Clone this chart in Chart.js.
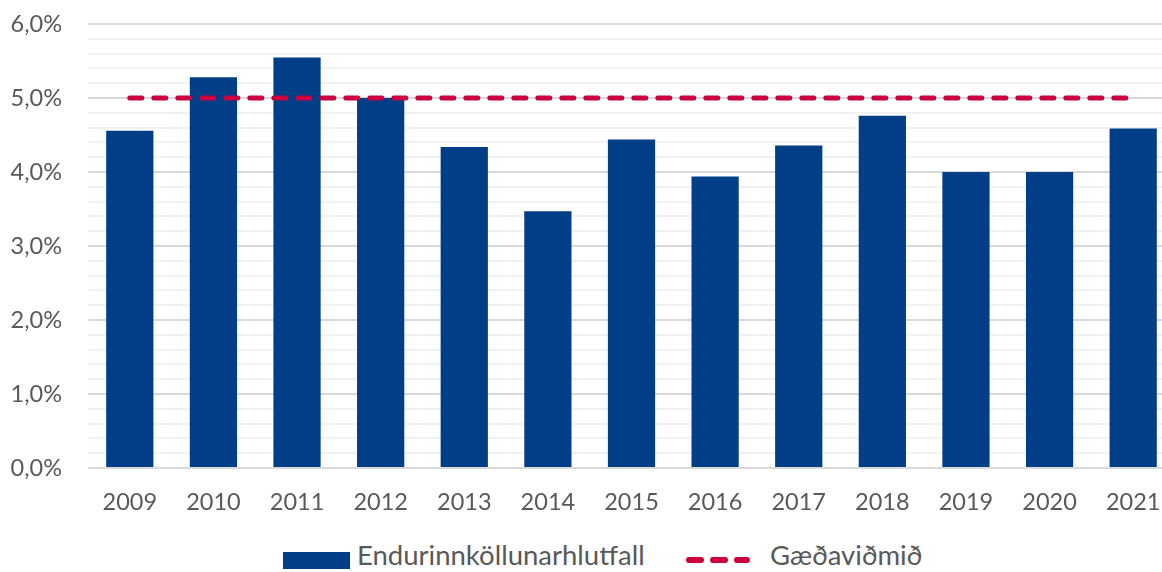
<!DOCTYPE html>
<html>
<head>
<meta charset="utf-8">
<script src="https://cdn.jsdelivr.net/npm/chart.js@4"></script>
<style>
  html, body { margin: 0; padding: 0; background: #fff; overflow: hidden; width: 1162px; height: 572px; }
  #wrap { position: absolute; left: 0; top: -16px; width: 1175px; height: 546px; }
  #legend { position: absolute; left: 0; top: 540px; width: 1162px; height: 32px; font-family: Lato, "Open Sans", sans-serif; font-size: 27.5px; color: #595959; }
  .sw1 { position: absolute; left: 283px; top: 12px; width: 67px; height: 17px; background: #003F87; }
  .t1 { position: absolute; left: 357px; top: -2px; white-space: nowrap; }
  .sw2 { position: absolute; left: 686px; top: 17px; width: 64px; height: 6px; }
  .t2 { position: absolute; left: 770px; top: -2px; white-space: nowrap; }
</style>
</head>
<body>
<div id="wrap"><canvas id="c" width="1175" height="546"></canvas></div>
<div id="legend">
  <div class="sw1"></div><div class="t1" id="lab1"></div>
  <canvas class="sw2" id="sw2" width="64" height="6"></canvas><div class="t2" id="lab2"></div>
</div>
<script>
const categories = ['2009','2010','2011','2012','2013','2014','2015','2016','2017','2018','2019','2020','2021'];
const recallRate = [4.56, 5.28, 5.55, 5.00, 4.34, 3.47, 4.44, 3.94, 4.36, 4.76, 4.00, 4.00, 4.59];
const qualityTarget = [5, 5, 5, 5, 5, 5, 5, 5, 5, 5, 5, 5, 5];
const seriesNames = ['Endurinnköllunarhlutfall', 'Gæðaviðmið'];

document.getElementById('lab1').textContent = seriesNames[0];
document.getElementById('lab2').textContent = seriesNames[1];

// legend dash swatch
(function(){
  const cv = document.getElementById('sw2');
  const g = cv.getContext('2d');
  g.strokeStyle = '#CC0040';
  g.lineWidth = 6;
  g.lineCap = 'round';
  g.setLineDash([12, 12]);
  g.beginPath(); g.moveTo(3, 3); g.lineTo(61, 3); g.stroke();
})();

const FONT = 'Lato, "Open Sans", sans-serif';

new Chart(document.getElementById('c'), {
  data: {
    labels: categories,
    datasets: [
      {
        type: 'line',
        label: seriesNames[1],
        data: qualityTarget,
        borderColor: '#CC0040',
        borderWidth: 5,
        borderDash: [12, 12],
        borderCapStyle: 'round',
        pointRadius: 0,
        fill: false,
        order: 0
      },
      {
        type: 'bar',
        label: seriesNames[0],
        data: recallRate,
        backgroundColor: '#003F87',
        categoryPercentage: 1,
        barPercentage: 0.565,
        order: 1
      }
    ]
  },
  options: {
    responsive: false,
    animation: false,
    layout: { padding: { top: 10, right: 0, left: 0, bottom: 0 } },
    plugins: { legend: { display: false }, tooltip: { enabled: false } },
    scales: {
      x: {
        offset: true,
        grid: { display: false },
        border: { display: false },
        ticks: { color: '#595959', font: { family: FONT, size: 23.5 }, padding: 12 },
        afterFit: (s) => { s.height = 62; }
      },
      y: {
        min: 0,
        max: 6,
        border: { display: false },
        grid: {
          drawTicks: false,
          lineWidth: 2,
          color: (ctx) => {
            const v = ctx.tick ? ctx.tick.value : 0;
            return Math.abs(v - Math.round(v)) < 1e-6 ? '#D9D9D9' : '#F2F2F2';
          }
        },
        ticks: {
          stepSize: 0.2,
          autoSkip: false,
          color: '#595959',
          font: { family: FONT, size: 23.5 },
          padding: 26,
          callback: (v) => Math.abs(v - Math.round(v)) < 1e-6 ? Math.round(v) + ',0%' : ''
        },
        afterFit: (s) => { s.width = 88; }
      }
    }
  }
});
</script>
</body>
</html>
